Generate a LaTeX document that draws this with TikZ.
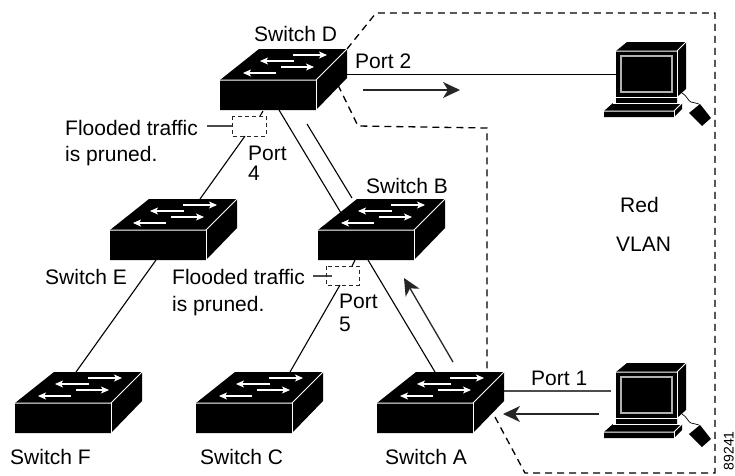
\documentclass[tikz,border=0pt]{standalone}
\usepackage{fontspec}
\setmainfont{Liberation Sans}
\usetikzlibrary{arrows.meta}
\tikzset{
  x=1pt,y=-1pt,
  lbl/.style={inner sep=0pt,anchor=base west,font=\fontsize{21}{25}\selectfont},
  conn/.style={line width=1.1pt,black},
  vlan/.style={line width=1.3pt,dash pattern=on 7pt off 5pt},
  prune/.style={line width=0.8pt,black!85,dash pattern=on 4pt off 3pt},
  flow/.style={line width=1.3pt,-{Stealth[length=17pt,width=16pt,inset=5pt]},black!85},
  swarrow/.style={white,line width=1.1pt,-{Stealth[length=8pt,width=7pt,inset=2pt]}},
  edge/.style={white,line width=1pt},
  switchpic/.pic={
    \fill[black] (0,0) -- (39,-31) -- (127,-31) -- (127,-2) -- (96,30) -- (0,30) -- cycle;
    \draw[edge] (0,0) -- (96,0) -- (127,-31);
    \draw[edge] (96,0) -- (96,30);
    \draw[swarrow] (73,-25) -- (107,-25);
    \draw[swarrow] (74,-19) -- (40,-19);
    \draw[swarrow] (61,-13) -- (94,-13);
    \draw[swarrow] (56,-7) -- (23,-7);
  },
  pcpic/.pic={
    \fill[black] (0,0) -- (11,-9) -- (70,-9) -- (70,38) -- (61,46) -- (61,52) -- (66,52) -- (66,58) -- (58,66) -- (-12,66) -- (-12,60) -- (-3,52) -- (0,52) -- cycle;
    \draw[edge] (0,0) -- (61,0) -- (70,-9);
    \draw[edge] (61,0) -- (61,46) -- (0,46);
    \draw[edge,line width=1.2pt,black!30] (5,5) rectangle (56,41);
    \draw[edge] (-12,60) -- (58,60) -- (66,52);
    \draw[edge] (58,60) -- (58,66);
    \draw[edge] (-3,52) -- (66,52);
    \draw[black,line width=0.7pt] (66,42) .. controls (72,46) and (72,50) .. (75,51) .. controls (79,52) and (80,52) .. (83,53);
    \fill[black] (84,53) -- (95,67) -- (86,75) -- (73,62) -- cycle;
  }
}
\begin{document}
\begin{tikzpicture}
\useasboundingbox (0,0) rectangle (735,475);
% anchors
\coordinate (swD) at (220,80);
\coordinate (swE) at (110,230);
\coordinate (swB) at (318,230);
\coordinate (swF) at (15,403);
\coordinate (swC) at (196,403);
\coordinate (swA) at (377,403);
\coordinate (pcTop) at (616,51);
\coordinate (pcBot) at (616,372);
% connector ends
\coordinate (dPort4) at (263,111);
\coordinate (box4a) at (260,116);
\coordinate (box4b) at (245,136);
\coordinate (eTop) at (200,199);
\coordinate (eBot) at (156,260);
\coordinate (fTop) at (76,372);
\coordinate (dB) at (279,110);
\coordinate (bD) at (341,213);
\coordinate (fwdS) at (307,124);
\coordinate (fwdE) at (352,198);
\coordinate (bPort5) at (355,260);
\coordinate (box5a) at (352,266);
\coordinate (box5b) at (340,285);
\coordinate (cTop) at (290,372);
\coordinate (bA) at (368,260);
\coordinate (aB) at (435,372);
\coordinate (upS) at (453,362);
\coordinate (upE) at (404,278);
\coordinate (dP2) at (347,74.5);
\coordinate (pcT) at (616,74.5);
\coordinate (rS) at (363,90);
\coordinate (rE) at (460,90);
\coordinate (aP1) at (503,391);
\coordinate (pcB) at (611,391);
\coordinate (lS) at (599,414);
\coordinate (lE) at (503,414);
\coordinate (t4) at (207,126);
\coordinate (t4e) at (233,126);
\coordinate (t5) at (313,276);
\coordinate (t5e) at (332,276);
% VLAN boundary
\draw[vlan] (347,49) -- (376,13) -- (715,13) -- (715,473) -- (525,473) -- (495,417);
\draw[vlan] (338,85) -- (358,126) -- (487,128) -- (487,372);
% connectors
\draw[conn] (dPort4) -- (box4a);
\draw[conn] (box4b) -- (eTop);
\draw[conn] (eBot) -- (fTop);
\draw[conn] (dB) -- (bD);
\draw[conn] (fwdS) -- (fwdE);
\draw[conn] (bPort5) -- (box5a);
\draw[conn] (box5b) -- (cTop);
\draw[conn] (bA) -- (aB);
\draw[conn] (dP2) -- (pcT);
\draw[conn,black!70] (aP1) -- (pcB);
\draw[conn,black!70] (t4) -- (t4e);
\draw[conn,black!70] (t5) -- (t5e);
\draw[prune] (232,116) rectangle (266,136);
\draw[prune] (326,266) rectangle (359,285);
\draw[flow] (rS) -- (rE);
\draw[flow] (lS) -- (lE);
\draw[flow] (upS) -- (upE);
% devices
\pic at (swD) {switchpic};
\pic at (swE) {switchpic};
\pic at (swB) {switchpic};
\pic at (swF) {switchpic};
\pic at (swC) {switchpic};
\pic at (swA) {switchpic};
\pic at (pcTop) {pcpic};
\pic at (pcBot) {pcpic};
% labels
\node[lbl] (lD) at (254,41) {Switch D};
\node[lbl] (lB) at (366,193) {Switch B};
\node[lbl] (lE2) at (45,284) {Switch E};
\node[lbl] (lF) at (10,464) {Switch F};
\node[lbl] (lC) at (200,464) {Switch C};
\node[lbl] (lA) at (385,464) {Switch A};
\node[lbl] (p2) at (355,68) {Port 2};
\node[lbl] (p1) at (531,385) {Port 1};
\node[lbl] (p4a) at (248,160) {Port};
\node[lbl] (p4b) at (248,180) {4};
\node[lbl] (p5a) at (339,308) {Port};
\node[lbl] (p5b) at (339,331) {5};
\node[lbl] (f1a) at (65,135) {Flooded traffic};
\node[lbl] (f1b) at (65,161) {is pruned.};
\node[lbl] (f2a) at (172,284) {Flooded traffic};
\node[lbl] (f2b) at (172,311) {is pruned.};
\node[lbl] (red) at (620,212) {Red};
\node[lbl] (vl) at (616,251) {VLAN};
\node[inner sep=0pt,anchor=base east,rotate=90,font=\fontsize{14}{16}\selectfont] (num) at (733.5,431) {89241};
\end{tikzpicture}
\end{document}
